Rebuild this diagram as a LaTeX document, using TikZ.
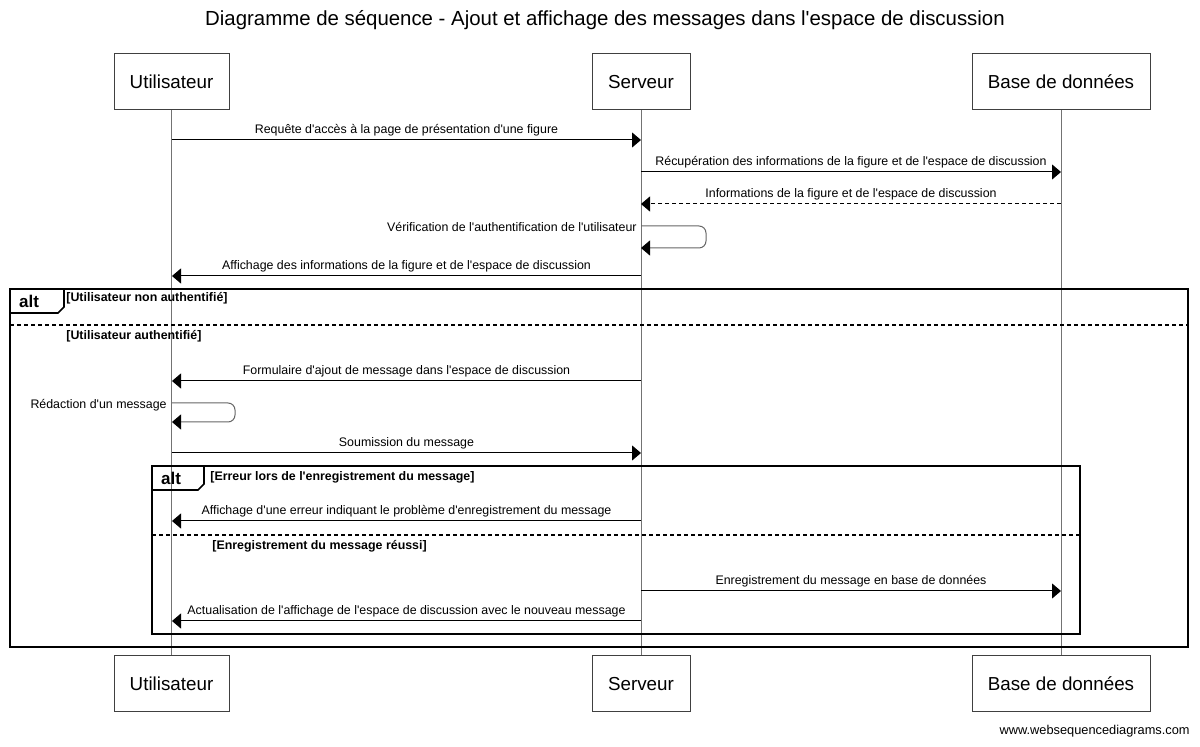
\documentclass[tikz,border=0pt]{standalone}
\usepackage{fontspec}
\setmainfont{Liberation Sans}[Ligatures=TeXOff]
\usetikzlibrary{arrows.meta}
\begin{document}
\begin{tikzpicture}[x=0.5pt,y=-0.5pt,
  part/.style={draw=black!75,line width=0.5pt,fill=white,font=\fontsize{9.4}{11}\selectfont,inner sep=0pt},
  lifeline/.style={draw=black!55,line width=0.5pt},
  msg/.style={draw=black,line width=0.5pt,-{Triangle[length=4.5pt,width=7.5pt,color=black]}},
  selfmsg/.style={msg,draw=black!60,rounded corners=3.5pt},
  ret/.style={msg,dash pattern=on 2pt off 1.5pt},
  lbl/.style={font=\fontsize{6.2}{7.5}\selectfont,inner sep=0pt},
  frame/.style={draw=black,line width=0.8pt},
  guard/.style={font=\bfseries\fontsize{6.2}{7.5}\selectfont,inner sep=0pt,anchor=west},
  altlbl/.style={font=\bfseries\fontsize{8.5}{10}\selectfont,inner sep=0pt},
  divider/.style={draw=black,line width=0.6pt,dash pattern=on 2pt off 1.5pt}]
\useasboundingbox (0,0) rectangle (1200,747);
% title
\node[font=\fontsize{10.2}{12}\selectfont,inner sep=0pt] (title) at (605,20) {Diagramme de séquence - Ajout et affichage des messages dans l'espace de discussion};
% participants
\node[part,minimum width=57.5pt,minimum height=28pt] (u1) at (171.5,82) {Utilisateur};
\node[part,minimum width=49pt,minimum height=28pt] (s1) at (641,82) {Serveur};
\node[part,minimum width=89pt,minimum height=28pt] (b1) at (1061,82) {Base de données};
\node[part,minimum width=57.5pt,minimum height=28pt] (u2) at (171.5,684) {Utilisateur};
\node[part,minimum width=49pt,minimum height=28pt] (s2) at (641,684) {Serveur};
\node[part,minimum width=89pt,minimum height=28pt] (b2) at (1061,684) {Base de données};
\draw[lifeline] (u1) -- (u2);
\draw[lifeline] (s1) -- (s2);
\draw[lifeline] (b1) -- (b2);
% alt frames
\draw[frame] (10,289) rectangle (1188,647);
\draw[frame] (10,289) -- (64,289) -- (64,307) -- (58,313) -- (10,313);
\node[altlbl] (alt1) at (29,301) {alt};
\node[guard] (g1) at (66,298) {[Utilisateur non authentifié]};
\draw[divider] (10,325) -- (1188,325);
\node[guard] (g2) at (66,336) {[Utilisateur authentifié]};
\draw[frame] (152,466) rectangle (1080,634);
\draw[frame] (152,466) -- (204,466) -- (204,484) -- (198,490) -- (152,490);
\node[altlbl] (alt2) at (171,478) {alt};
\node[guard] (g3) at (210,477) {[Erreur lors de l'enregistrement du message]};
\draw[divider] (152,535) -- (1080,535);
\node[guard] (g4) at (212,546) {[Enregistrement du message réussi]};
% message anchor points
\coordinate (u140) at (172,140); \coordinate (s140) at (641,140);
\coordinate (s172) at (641,172); \coordinate (b172) at (1061,172);
\coordinate (b204) at (1061,204); \coordinate (s204) at (641,204);
\coordinate (s227) at (641,226); \coordinate (s248) at (641,248);
\coordinate (s276) at (641,276); \coordinate (u276) at (172,276);
\coordinate (s380) at (641,381); \coordinate (u380) at (172,381);
\coordinate (u404) at (172,403); \coordinate (u421) at (172,422);
\coordinate (u454) at (172,453); \coordinate (s454) at (641,453);
\coordinate (s521) at (641,521); \coordinate (u521) at (172,521);
\coordinate (s591) at (641,591); \coordinate (b591) at (1061,591);
\coordinate (s621) at (641,621); \coordinate (u621) at (172,621);
% messages
\draw[msg] (u140) -- node[lbl,above=1.5pt] {Requête d'accès à la page de présentation d'une figure} (s140);
\draw[msg] (s172) -- node[lbl,above=1.5pt] {Récupération des informations de la figure et de l'espace de discussion} (b172);
\draw[ret] (b204) -- node[lbl,above=1.5pt] {Informations de la figure et de l'espace de discussion} (s204);
\draw[selfmsg] (s227) -- (706,226) -- (706,248) -- (s248);
\node[lbl,anchor=east] (v1) at (637,227) {Vérification de l'authentification de l'utilisateur};
\draw[msg] (s276) -- node[lbl,above=1.5pt] {Affichage des informations de la figure et de l'espace de discussion} (u276);
\draw[msg] (s380) -- node[lbl,above=1.5pt] {Formulaire d'ajout de message dans l'espace de discussion} (u380);
\draw[selfmsg] (u404) -- (235,403) -- (235,422) -- (u421);
\node[lbl,anchor=east] (r1) at (167,405) {Rédaction d'un message};
\draw[msg] (u454) -- node[lbl,above=1.5pt] {Soumission du message} (s454);
\draw[msg] (s521) -- node[lbl,above=1.5pt] {Affichage d'une erreur indiquant le problème d'enregistrement du message} (u521);
\draw[msg] (s591) -- node[lbl,above=1.5pt] {Enregistrement du message en base de données} (b591);
\draw[msg] (s621) -- node[lbl,above=1.5pt] {Actualisation de l'affichage de l'espace de discussion avec le nouveau message} (u621);
% watermark
\node[font=\fontsize{6.4}{8}\selectfont,inner sep=0pt,anchor=east] (wm) at (1190,731) {www.websequencediagrams.com};
\end{tikzpicture}
\end{document}
